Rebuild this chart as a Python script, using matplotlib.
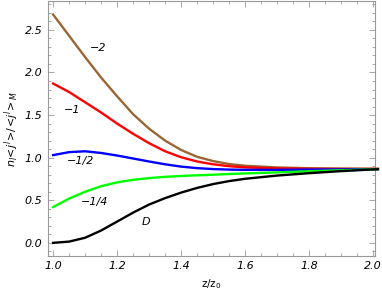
import matplotlib.pyplot as plt
from matplotlib.ticker import MultipleLocator

# values
z = [1.0, 1.05, 1.1, 1.15, 1.2, 1.25, 1.3, 1.35, 1.4, 1.45, 1.5, 1.55, 1.6, 1.7, 1.8, 1.9, 2.015]
n_m2 = [2.68, 2.43, 2.18, 1.94, 1.72, 1.51, 1.34, 1.20, 1.09, 1.01, 0.96, 0.925, 0.905, 0.885, 0.876, 0.872, 0.87]
n_m1 = [1.87, 1.77, 1.65, 1.53, 1.40, 1.28, 1.17, 1.075, 1.005, 0.955, 0.922, 0.90, 0.886, 0.874, 0.869, 0.867, 0.867]
n_mhalf = [1.03, 1.065, 1.075, 1.055, 1.025, 0.99, 0.955, 0.922, 0.895, 0.877, 0.866, 0.860, 0.857, 0.857, 0.86, 0.862, 0.865]
n_mquarter = [0.42, 0.52, 0.60, 0.665, 0.71, 0.74, 0.76, 0.775, 0.785, 0.793, 0.80, 0.808, 0.815, 0.827, 0.84, 0.852, 0.865]
n_D = [0.0, 0.015, 0.06, 0.145, 0.25, 0.355, 0.45, 0.525, 0.59, 0.645, 0.69, 0.725, 0.752, 0.79, 0.818, 0.842, 0.865]

series = [(n_m2, '#996633', '\u22122', 1.14, 2.29),
          (n_m1, '#ff0000', '\u22121', 1.06, 1.56),
          (n_mhalf, '#0000ff', '\u22121/2', 1.085, 0.955),
          (n_mquarter, '#00ff00', '\u22121/4', 1.13, 0.485),
          (n_D, '#000000', 'D', 1.29, 0.24)]

fig = plt.figure(figsize=(3.82, 3.0), dpi=100)
ax = fig.add_axes([0.1257, 0.147, 0.856, 0.85])

for vals, col, lab, tx, ty in series:
    ax.plot(z, vals, color=col, lw=1.7, clip_on=False, zorder=3,
            solid_joinstyle='round')
    ax.text(tx, ty, lab, fontsize=8, style='italic', ha='center', va='center')

ax.set_xlim(0.984, 2.006)
ax.set_ylim(-0.153, 2.84)
ax.xaxis.set_major_locator(MultipleLocator(0.2))
ax.xaxis.set_minor_locator(MultipleLocator(0.05))
ax.yaxis.set_major_locator(MultipleLocator(0.5))
ax.yaxis.set_minor_locator(MultipleLocator(0.1))
ax.xaxis.set_major_formatter(plt.FuncFormatter(lambda v, p: f'{v:.1f}'))
ax.yaxis.set_major_formatter(plt.FuncFormatter(lambda v, p: f'{v:.1f}'))

for s in ax.spines.values():
    s.set_color('#999999')
    s.set_linewidth(0.8)
ax.tick_params(which='both', direction='in', top=True, right=True, color='#999999', width=0.6)
ax.tick_params(which='major', length=4, labelsize=8, pad=4)
ax.tick_params(which='minor', length=2)
for t in ax.get_xticklabels() + ax.get_yticklabels():
    t.set_fontstyle('italic')

ax.set_xlabel(r'z/z$_{\mathit{0}}$', fontsize=7.5, labelpad=4)
ax.set_ylabel(r'$n_l\!<\!j^l\!>\!/\!<\!j^l\!>_M$', fontsize=8, labelpad=3)

plt.savefig('out.png', dpi=100)
